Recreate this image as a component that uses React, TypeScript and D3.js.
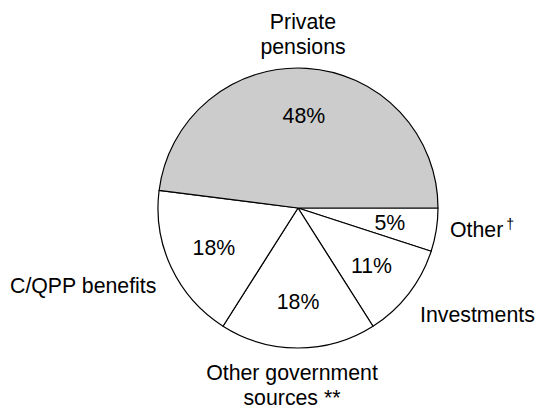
import React from "react";
import * as d3 from "d3";

const categories = ["Other", "Investments", "Other government sources", "C/QPP benefits", "Private pensions"];
const values = [5, 11, 18, 18, 48];
const fills = ["#ffffff", "#ffffff", "#ffffff", "#ffffff", "#cccccc"];

// outer label lines (text) per category
const outerLabels: string[][] = [["Other"], ["Investments"], ["Other government", "sources **"], ["C/QPP benefits"], ["Private", "pensions"]];

const W = 538;
const H = 410;
const CX = 298;
const CY = 208;
const R = 140;
const FONT = "'Liberation Sans', Arial, Helvetica, sans-serif";
const FS = 21.3;

// layout for outer labels: x, first baseline y, anchor
const outerLayout: { x: number; y: number; anchor: "start" | "middle" | "end" }[] = [
  { x: 450, y: 237, anchor: "start" },
  { x: 420, y: 322, anchor: "start" },
  { x: 292, y: 380, anchor: "middle" },
  { x: 10, y: 293, anchor: "start" },
  { x: 303, y: 29, anchor: "middle" },
];

export default function App() {
  const pie = d3
    .pie<number>()
    .sort(null)
    .value((d) => d)
    .startAngle(Math.PI / 2)
    .endAngle(Math.PI / 2 + 2 * Math.PI);
  const arcs = pie(values);
  const arc = d3.arc<d3.PieArcDatum<number>>().innerRadius(0).outerRadius(R);
  const labelArc = d3.arc<d3.PieArcDatum<number>>().innerRadius(93).outerRadius(93);

  return (
    <svg width={W} height={H} style={{ position: "absolute", left: 0, top: 0, background: "#fff" }}>
      <g transform={`translate(${CX},${CY})`}>
        {arcs.map((a, i) => (
          <path key={i} d={arc(a) || ""} fill={fills[i]} stroke="#000" strokeWidth={1.2} strokeLinejoin="round" />
        ))}
        {arcs.map((a, i) => {
          const [x, y] = labelArc.centroid(a);
          return (
            <text key={"p" + i} x={x} y={y} dy="0.36em" textAnchor="middle" fontFamily={FONT} fontSize={FS} fill="#000">
              {values[i]}%
            </text>
          );
        })}
      </g>
      {outerLabels.map((lines, i) => (
        <text key={"o" + i} x={outerLayout[i].x} y={outerLayout[i].y} textAnchor={outerLayout[i].anchor} fontFamily={FONT} fontSize={FS} fill="#000">
          {lines.map((l, j) => (
            <tspan key={j} x={outerLayout[i].x} dy={j === 0 ? 0 : 25}>
              {l}
            </tspan>
          ))}
          {i === 0 ? (
            <tspan dx={3} dy={-8} fontSize={14}>
              †
            </tspan>
          ) : null}
        </text>
      ))}
    </svg>
  );
}
